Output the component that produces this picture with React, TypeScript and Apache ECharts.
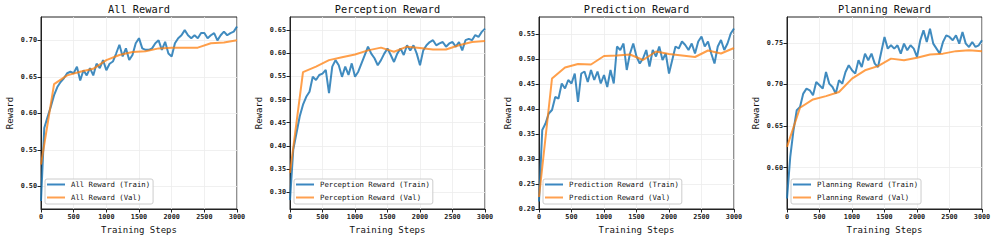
import React, { useEffect, useRef } from "react";
import * as echarts from "echarts";

const FONT = "DejaVu Sans Mono";

const titles = ["All Reward", "Perception Reward", "Prediction Reward", "Planning Reward"];
const trainNames = ["All Reward (Train)", "Perception Reward (Train)", "Prediction Reward (Train)", "Planning Reward (Train)"];
const valNames = ["All Reward (Val)", "Perception Reward (Val)", "Prediction Reward (Val)", "Planning Reward (Val)"];

const xTicks = [0, 500, 1000, 1500, 2000, 2500, 3000];

const trainSteps = [
  0, 50, 100, 150, 200, 250, 300, 350, 400, 450, 500, 550, 600, 650, 700, 750, 800, 850, 900, 950,
  1000, 1050, 1100, 1150, 1200, 1250, 1300, 1350, 1400, 1450, 1500, 1550, 1600, 1650, 1700, 1750,
  1800, 1850, 1900, 1950, 2000, 2050, 2100, 2150, 2200, 2250, 2300, 2350, 2400, 2450, 2500, 2550,
  2600, 2650, 2700, 2750, 2800, 2850, 2900, 2950, 3000,
];
const valSteps = [0, 200, 400, 600, 800, 1000, 1200, 1400, 1600, 1800, 2000, 2200, 2400, 2600, 2800, 3000];

const allTrain = [
  0.48, 0.58, 0.595, 0.609, 0.625, 0.636, 0.643, 0.648, 0.655, 0.657, 0.655, 0.664, 0.645, 0.659, 0.652,
  0.662, 0.652, 0.668, 0.662, 0.673, 0.659, 0.668, 0.671, 0.682, 0.694, 0.678, 0.689, 0.673, 0.68, 0.696,
  0.703, 0.689, 0.687, 0.687, 0.689, 0.696, 0.7, 0.687, 0.698, 0.682, 0.678, 0.696, 0.703, 0.707, 0.714,
  0.707, 0.703, 0.707, 0.703, 0.71, 0.71, 0.703, 0.707, 0.71, 0.7, 0.707, 0.712, 0.707, 0.71, 0.712, 0.719,
];
const allVal = [0.53, 0.64, 0.652, 0.657, 0.661, 0.673, 0.68, 0.684, 0.685, 0.689, 0.69, 0.69, 0.69, 0.696, 0.697, 0.7];

const percTrain = [
  0.283, 0.392, 0.428, 0.464, 0.489, 0.506, 0.517, 0.549, 0.542, 0.553, 0.556, 0.564, 0.514, 0.571, 0.585,
  0.574, 0.549, 0.571, 0.553, 0.578, 0.549, 0.56, 0.578, 0.596, 0.614, 0.599, 0.589, 0.574, 0.585, 0.599,
  0.61, 0.596, 0.581, 0.599, 0.61, 0.596, 0.617, 0.606, 0.617, 0.599, 0.574, 0.606, 0.617, 0.624, 0.628,
  0.617, 0.621, 0.624, 0.614, 0.621, 0.624, 0.614, 0.624, 0.606, 0.628, 0.631, 0.628, 0.639, 0.635, 0.646, 0.653,
];
const percVal = [0.342, 0.559, 0.571, 0.585, 0.591, 0.597, 0.606, 0.612, 0.603, 0.614, 0.611, 0.608, 0.608, 0.617, 0.624, 0.626];

const predTrain = [
  0.215, 0.358, 0.371, 0.391, 0.398, 0.424, 0.421, 0.451, 0.441, 0.458, 0.451, 0.471, 0.414, 0.471, 0.475,
  0.454, 0.478, 0.458, 0.475, 0.451, 0.468, 0.444, 0.478, 0.451, 0.525, 0.518, 0.531, 0.478, 0.511, 0.531,
  0.505, 0.491, 0.501, 0.518, 0.485, 0.518, 0.505, 0.525, 0.498, 0.511, 0.471, 0.498, 0.525, 0.521, 0.535,
  0.528, 0.518, 0.531, 0.511, 0.535, 0.545, 0.525, 0.535, 0.511, 0.491, 0.525, 0.538, 0.518, 0.531, 0.551, 0.561,
];
const predVal = [0.224, 0.461, 0.483, 0.49, 0.489, 0.506, 0.507, 0.509, 0.498, 0.515, 0.51, 0.507, 0.504, 0.517, 0.511, 0.522];

const planTrain = [
  0.563, 0.613, 0.645, 0.669, 0.673, 0.689, 0.695, 0.693, 0.687, 0.703, 0.699, 0.695, 0.715, 0.701, 0.697,
  0.689, 0.705, 0.701, 0.715, 0.723, 0.717, 0.713, 0.729, 0.721, 0.737, 0.729, 0.737, 0.725, 0.721, 0.739,
  0.757, 0.743, 0.747, 0.743, 0.747, 0.737, 0.749, 0.741, 0.747, 0.743, 0.733, 0.753, 0.765, 0.751, 0.767,
  0.749, 0.743, 0.737, 0.751, 0.759, 0.757, 0.753, 0.759, 0.749, 0.763, 0.749, 0.745, 0.751, 0.745, 0.747, 0.753,
];
const planVal = [0.625, 0.672, 0.682, 0.686, 0.691, 0.707, 0.717, 0.722, 0.731, 0.729, 0.732, 0.736, 0.737, 0.74, 0.741, 0.74];

const yTicks = [
  [0.5, 0.55, 0.6, 0.65, 0.7],
  [0.3, 0.35, 0.4, 0.45, 0.5, 0.55, 0.6, 0.65],
  [0.2, 0.25, 0.3, 0.35, 0.4, 0.45, 0.5, 0.55],
  [0.6, 0.65, 0.7, 0.75],
];
const yMins = [0.469, 0.264, 0.2, 0.5504];
const yMaxs = [0.732, 0.678, 0.584, 0.781];

const trains = [allTrain, percTrain, predTrain, planTrain];
const vals = [allVal, percVal, predVal, planVal];

const gridLefts = [41, 290, 539, 787];
const gridWidths = [196, 195, 195, 195];
const GRID_TOP = 17;
const GRID_H = 192;

export default function App() {
  const ref = useRef<HTMLDivElement>(null);
  useEffect(() => {
    if (!ref.current) return;
    const chart = echarts.init(ref.current, null, { renderer: "svg" });
    const grid: any[] = [];
    const xAxis: any[] = [];
    const yAxis: any[] = [];
    const series: any[] = [];
    const title: any[] = [];
    const legend: any[] = [];
    for (let i = 0; i < 4; i++) {
      grid.push({
        left: gridLefts[i],
        top: GRID_TOP,
        width: gridWidths[i],
        height: GRID_H,
        show: true,
        borderColor: "#222",
        borderWidth: 1,
        backgroundColor: "#fff",
      });
      title.push({
        text: titles[i],
        left: gridLefts[i] + gridWidths[i] / 2,
        top: 4,
        padding: 0,
        textAlign: "center",
        textStyle: { fontFamily: FONT, fontSize: 10.3, fontWeight: "normal", color: "#111" },
      });
      xAxis.push({
        type: "value",
        gridIndex: i,
        min: xTicks[0],
        max: xTicks[xTicks.length - 1],
        interval: 500,
        name: "Training Steps",
        nameLocation: "middle",
        nameGap: 16,
        nameTextStyle: { fontFamily: FONT, fontSize: 9, color: "#111" },
        axisLine: { show: true, lineStyle: { color: "#222", width: 1 } },
        axisTick: { show: true, length: 3.5, lineStyle: { color: "#222" } },
        axisLabel: {
          fontFamily: FONT,
          fontSize: 6.8,
          color: "#222",
          margin: 4,
          fontWeight: "bold",
          formatter: (v: number) => String(v),
        },
        splitLine: { show: true, lineStyle: { color: "#ececec", width: 0.8 } },
      });
      yAxis.push({
        type: "value",
        gridIndex: i,
        min: yMins[i],
        max: yMaxs[i],
        name: "Reward",
        nameLocation: "middle",
        nameGap: 27,
        nameTextStyle: { fontFamily: FONT, fontSize: 9, color: "#111" },
        axisLine: { show: true, lineStyle: { color: "#222", width: 1 } },
        axisTick: { show: true, length: 3.5, lineStyle: { color: "#222" }, customValues: yTicks[i] },
        axisLabel: {
          fontFamily: FONT,
          fontSize: 6.8,
          color: "#222",
          margin: 4,
          fontWeight: "bold",
          customValues: yTicks[i],
          formatter: (v: number) => v.toFixed(2),
        },
        splitLine: { show: true, lineStyle: { color: "#ececec", width: 0.8 } },
      });
      series.push({
        type: "line",
        name: trainNames[i],
        xAxisIndex: i,
        yAxisIndex: i,
        data: trainSteps.map((s, k) => [s, trains[i][k]]),
        symbol: "none",
        lineStyle: { color: "#1f77b4", width: 2, opacity: 0.85 },
        itemStyle: { color: "#3a87c0" },
        z: 2,
      });
      series.push({
        type: "line",
        name: valNames[i],
        xAxisIndex: i,
        yAxisIndex: i,
        data: valSteps.map((s, k) => [s, vals[i][k]]),
        symbol: "none",
        lineStyle: { color: "#ff7f0e", width: 2, opacity: 0.75 },
        itemStyle: { color: "#ffa050" },
        z: 3,
      });
      legend.push({
        data: [trainNames[i], valNames[i]],
        orient: "vertical",
        left: gridLefts[i] + 4,
        top: 179,
        icon: "rect",
        itemWidth: 18,
        itemHeight: 2,
        itemGap: 4,
        padding: [1, 3, 2, 2],
        backgroundColor: "rgba(255,255,255,0.85)",
        borderColor: "#cccccc",
        borderWidth: 1,
        borderRadius: 2,
        textStyle: { fontFamily: FONT, fontSize: 7.3, color: "#111", lineHeight: 9, padding: [0, 0, 0, 1] },
      });
    }
    chart.setOption({
      animation: false,
      backgroundColor: "#fff",
      title,
      grid,
      xAxis,
      yAxis,
      series,
      legend,
    });
    return () => chart.dispose();
  }, []);
  return <div ref={ref} style={{ position: "absolute", left: 0, top: 0, width: 996, height: 242 }} />;
}
